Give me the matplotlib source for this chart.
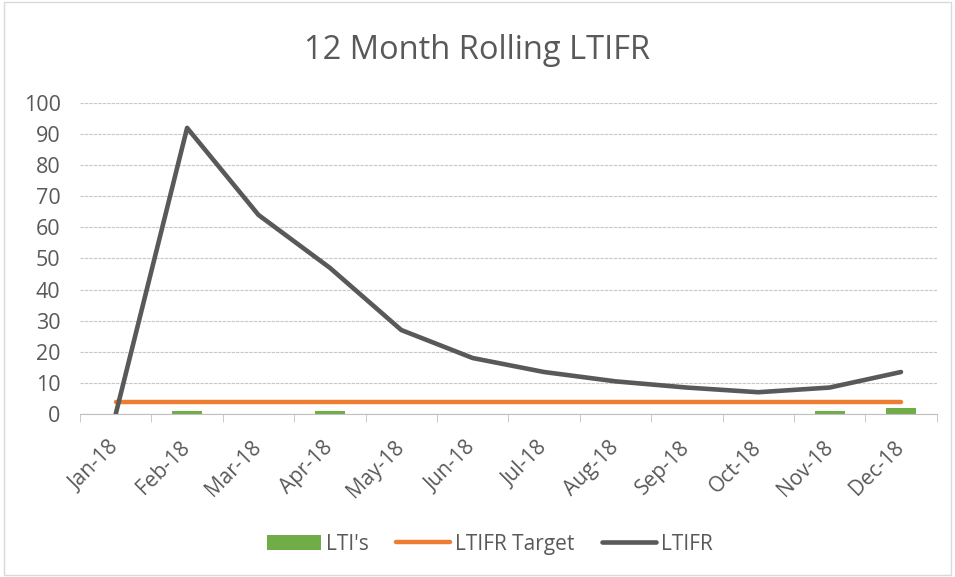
import matplotlib
matplotlib.use('Agg')
import matplotlib.pyplot as plt
from matplotlib.patches import Rectangle
from matplotlib.transforms import ScaledTranslation
import numpy as np

months = ['Jan-18', 'Feb-18', 'Mar-18', 'Apr-18', 'May-18', 'Jun-18',
          'Jul-18', 'Aug-18', 'Sep-18', 'Oct-18', 'Nov-18', 'Dec-18']
ltis = [0, 1, 0, 1, 0, 0, 0, 0, 0, 0, 1, 2]
ltifr_target = [4, 4, 4, 4, 4, 4, 4, 4, 4, 4, 4, 4]
ltifr = [0, 92, 64, 47, 27, 18, 13.5, 10.5, 8.5, 7, 8.5, 13.5]

TEXT = '#595959'
plt.rcParams['font.family'] = ['Open Sans', 'DejaVu Sans']

fig = plt.figure(figsize=(9.55, 5.77), dpi=100)
fig.patches.append(Rectangle((0.004, 0.004), 0.992, 0.992, transform=fig.transFigure,
                             fill=False, edgecolor='#d9d9d9', linewidth=1))
ax = fig.add_axes([0.0838, 0.2825, 0.897, 0.539])

x = np.arange(len(months))
bars = ax.bar(x, ltis, width=0.42, color='#70AD47', label="LTI's", zorder=2)
target_line, = ax.plot(x, ltifr_target, color='#ED7D31', linewidth=3.2,
                       solid_capstyle='round', label='LTIFR Target', zorder=3)
ltifr_line, = ax.plot(x, ltifr, color='#595959', linewidth=3.3, solid_capstyle='round',
                      solid_joinstyle='round', label='LTIFR', zorder=4)

ax.set_xlim(-0.5, len(months) - 0.5)
ax.set_ylim(0, 100)
ax.set_yticks(range(0, 101, 10))
ax.yaxis.grid(True, color='#c8c8c8', linestyle=(0, (3, 1)), linewidth=0.8)
ax.set_axisbelow(True)

ax.set_xticks(x)
ax.set_xticklabels(months, rotation=45, ha='right', va='center', rotation_mode='anchor')
# shift labels a little so their ends sit just right of the category centre
for lbl in ax.get_xticklabels():
    lbl.set_transform(lbl.get_transform() + ScaledTranslation(0.09, 0, fig.dpi_scale_trans))
ax.set_xticks(np.arange(-0.5, len(months), 1), minor=True)
ax.tick_params(axis='x', which='major', length=0, pad=22, labelsize=15, labelcolor=TEXT)
ax.tick_params(axis='x', which='minor', length=6, color='#bfbfbf', direction='out')
ax.tick_params(axis='y', length=0, pad=14, labelsize=15.5, labelcolor=TEXT)

for s in ['top', 'right', 'left']:
    ax.spines[s].set_visible(False)
ax.spines['bottom'].set_color('#bfbfbf')

fig.text(0.5, 0.913, '12 Month Rolling LTIFR', ha='center', va='center',
         fontsize=23.5, color=TEXT)

fig.legend([bars, target_line, ltifr_line], ["LTI's", 'LTIFR Target', 'LTIFR'],
           loc='center', bbox_to_anchor=(0.513, 0.057), ncol=3, frameon=False,
           fontsize=15, labelcolor=TEXT, handlelength=2.6, handleheight=0.7,
           handletextpad=0.25, columnspacing=1.3)

fig.savefig('out.png', dpi=100)
